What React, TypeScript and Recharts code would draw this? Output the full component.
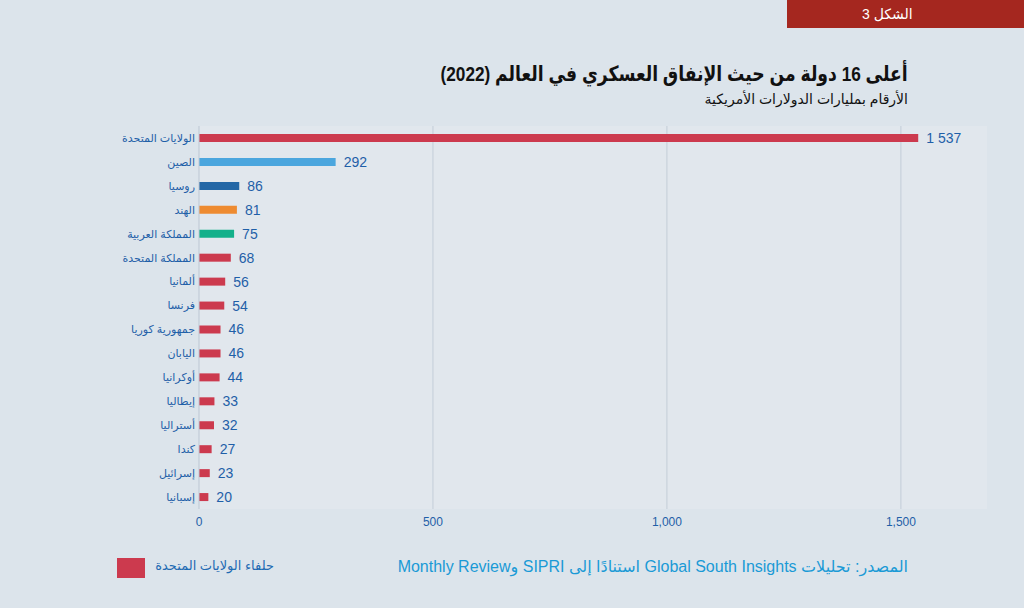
import { Bar, BarChart, CartesianGrid, Cell, LabelList, XAxis, YAxis } from "recharts";

const countries = [
  "الولايات المتحدة",
  "الصين",
  "روسيا",
  "الهند",
  "المملكة العربية",
  "المملكة المتحدة",
  "ألمانيا",
  "فرنسا",
  "جمهورية كوريا",
  "اليابان",
  "أوكرانيا",
  "إيطاليا",
  "أستراليا",
  "كندا",
  "إسرائيل",
  "إسبانيا",
];
const spending = [1537, 292, 86, 81, 75, 68, 56, 54, 46, 46, 44, 33, 32, 27, 23, 20];
const xTicks = [0, 500, 1000, 1500];
const gridValues = [500, 1000, 1500];
const barColors = [
  "#cc3a4e", "#4ba6de", "#2367a6", "#ee8b31", "#12b08a", "#cc3a4e", "#cc3a4e", "#cc3a4e",
  "#cc3a4e", "#cc3a4e", "#cc3a4e", "#cc3a4e", "#cc3a4e", "#cc3a4e", "#cc3a4e", "#cc3a4e",
];

const data = countries.map((name, i) => ({ name, value: spending[i] }));

const blue = "#1f5fa8";
const font = "'Liberation Sans', Arial, 'DejaVu Sans', sans-serif";

const fmtValue = (v: number) => (v >= 1000 ? `${Math.floor(v / 1000)} ${String(v % 1000).padStart(3, "0")}` : String(v));
const fmtTick = (v: number) => v.toLocaleString("en-US");

export default function App() {
  return (
    <div
      style={{
        position: "absolute",
        left: 0,
        top: 0,
        width: 1024,
        height: 608,
        background: "#dce4eb",
        fontFamily: font,
        overflow: "hidden",
      }}
    >
      <div
        style={{
          position: "absolute",
          left: 787,
          top: 0,
          width: 237,
          height: 28,
          background: "#a5271f",
          color: "#ffffff",
          fontSize: 14,
          lineHeight: "28px",
          paddingLeft: 75,
          boxSizing: "border-box",
        }}
      >
        <span style={{ direction: "rtl", unicodeBidi: "isolate", display: "inline-block" }}>الشكل 3</span>
      </div>

      <div
        style={{
          position: "absolute",
          right: 1024 - 908,
          top: 62,
          direction: "rtl",
          fontSize: 21,
          fontWeight: "bold",
          color: "#111111",
          whiteSpace: "nowrap",
          transform: "scaleX(0.82)",
          transformOrigin: "right center",
        }}
      >
        أعلى 16 دولة من حيث الإنفاق العسكري في العالم (2022)
      </div>
      <div
        style={{
          position: "absolute",
          right: 1024 - 908,
          top: 91,
          direction: "rtl",
          fontSize: 14,
          color: "#111111",
          whiteSpace: "nowrap",
        }}
      >
        الأرقام بمليارات الدولارات الأمريكية
      </div>

      <div style={{ position: "absolute", left: 0, top: 0 }}>
        <BarChart
          width={1024}
          height={608}
          data={data}
          layout="vertical"
          margin={{ top: 126, right: 37, left: 0, bottom: 69 }}
        >
          <CartesianGrid horizontal={false} verticalValues={gridValues} stroke="#c3cdd8" fill="#e1e7ed" />
          <XAxis
            type="number"
            domain={[0, 1684]}
            ticks={xTicks}
            tickFormatter={fmtTick}
            axisLine={false}
            tickLine={false}
            height={30}
            tickMargin={2}
            tick={{ fill: blue, fontSize: 12, fontFamily: font }}
          />
          <YAxis
            type="category"
            dataKey="name"
            width={199}
            axisLine={{ stroke: "#bcc7d3" }}
            tickLine={false}
            tickMargin={-2}
            interval={0}
            tick={{ fill: blue, fontSize: 11, fontFamily: font }}
          />
          <Bar dataKey="value" barSize={8} isAnimationActive={false}>
            {data.map((d, i) => (
              <Cell key={d.name} fill={barColors[i]} />
            ))}
            <LabelList
              dataKey="value"
              position="right"
              offset={8}
              formatter={(v: number) => fmtValue(v)}
              style={{ fill: blue, fontSize: 14, fontFamily: font }}
            />
          </Bar>
        </BarChart>
      </div>

      <div
        style={{
          position: "absolute",
          left: 117,
          top: 558,
          width: 28,
          height: 20,
          background: "#cc3a4e",
        }}
      />
      <div
        style={{
          position: "absolute",
          right: 1024 - 274,
          top: 558,
          direction: "rtl",
          fontSize: 13,
          color: "#1f6bb3",
          whiteSpace: "nowrap",
        }}
      >
        حلفاء الولايات المتحدة
      </div>
      <div
        style={{
          position: "absolute",
          right: 1024 - 908,
          top: 557,
          direction: "rtl",
          fontSize: 16,
          color: "#1a9ad6",
          whiteSpace: "nowrap",
        }}
      >
        المصدر: تحليلات Global South Insights استنادًا إلى SIPRI وMonthly Review
      </div>
    </div>
  );
}
